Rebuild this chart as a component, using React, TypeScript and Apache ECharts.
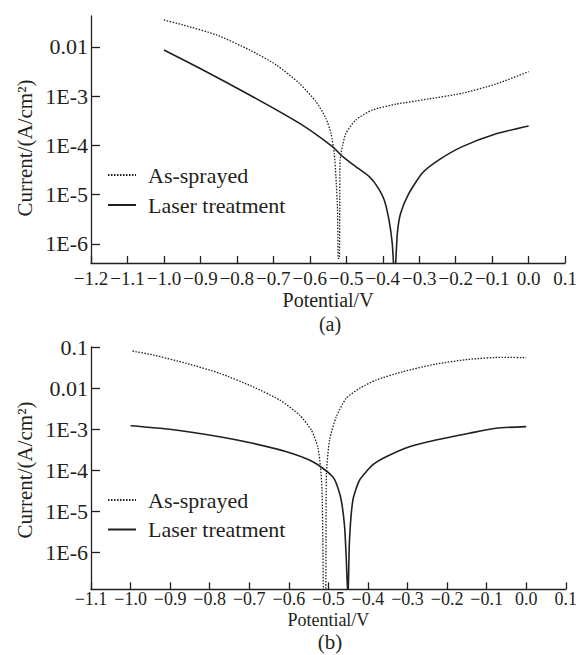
import React, { useEffect, useRef } from "react";
import * as echarts from "echarts";

// ---- data (a) ----
const potentialSprayedA = [-1.0, -0.948, -0.856, -0.765, -0.692, -0.629, -0.583, -0.556, -0.542, -0.533, -0.5285, -0.524, -0.522, -0.519, -0.518, -0.517, -0.51, -0.501, -0.474, -0.428, -0.364, -0.274, -0.182, -0.091, 0.0];
const currentSprayedA = [0.0353, 0.028, 0.01754, 8.69e-3, 4.31e-3, 1.83e-3, 7.75e-4, 3.56e-4, 1.77e-4, 6.95e-5, 2.32e-5, 4.9e-6, 5.1e-7, 5.1e-7, 4.9e-6, 5.08e-5, 1.02e-4, 1.77e-4, 3.3e-4, 5.26e-4, 6.87e-4, 8.8e-4, 1.15e-3, 1.75e-3, 3.15e-3];
const potentialLaserA = [-1.0, -0.902, -0.765, -0.629, -0.538, -0.51, -0.474, -0.437, -0.415, -0.396, -0.383, -0.374, -0.3675, -0.36, -0.351, -0.328, -0.292, -0.246, -0.182, -0.091, 0.0];
const currentLaserA = [8.69e-3, 3.7e-3, 1.06e-3, 2.83e-4, 9.46e-5, 5.93e-5, 3.72e-5, 2.32e-5, 1.46e-5, 7.8e-6, 3.07e-6, 1.03e-6, 2e-7, 1.65e-6, 4.2e-6, 1.07e-5, 2.73e-5, 5.08e-5, 9.46e-5, 1.71e-4, 2.49e-4];

// ---- data (b) ----
const potentialSprayedB = [-0.995, -0.943, -0.859, -0.775, -0.691, -0.623, -0.573, -0.543, -0.527, -0.52, -0.516, -0.514, -0.512, -0.507, -0.506, -0.505, -0.497, -0.48, -0.455, -0.421, -0.379, -0.312, -0.228, -0.144, -0.06, 0.0];
const currentSprayedB = [0.08, 0.064, 0.0401, 0.023, 0.01084, 5.15e-3, 2.22e-3, 9.6e-4, 3.78e-4, 1.23e-4, 3.34e-5, 2.04e-6, 1.2e-7, 1.2e-7, 2.0e-6, 8.5e-5, 5.5e-4, 2.02e-3, 5.66e-3, 9.9e-3, 0.0158, 0.0251, 0.0386, 0.0502, 0.0562, 0.055];
const potentialLaserB = [-1.0, -0.901, -0.775, -0.691, -0.606, -0.548, -0.514, -0.489, -0.48, -0.4676, -0.459, -0.455, -0.4505, -0.4466, -0.438, -0.421, -0.388, -0.354, -0.295, -0.228, -0.144, -0.0765, 0.0];
const currentLaserB = [1.22e-3, 1.0e-3, 6.6e-4, 4.56e-4, 2.85e-4, 1.79e-4, 1.13e-4, 7.0e-5, 4.86e-5, 1.91e-5, 4.28e-6, 8.0e-7, 8e-8, 2.04e-6, 1.91e-5, 5.85e-5, 1.36e-4, 2.15e-4, 3.78e-4, 5.48e-4, 8.0e-4, 1.06e-3, 1.16e-3];

const seriesNames = ["As-sprayed", "Laser treatment"];
const panelLabels = ["(a)", "(b)"];
const xAxisTitle = "Potential/V";
const yAxisTitle = "Current/(A/cm\u00B2)";

const INK = "#231f20";
const FONT = "'Liberation Serif', 'Times New Roman', serif";

const zip = (xs: number[], ys: number[]) => xs.map((x, i) => [x, ys[i]]);

function fmtX(v: number) {
  const r = Math.round(v * 10) / 10;
  return (r < 0 ? "\u2212" : "") + Math.abs(r).toFixed(1);
}
function fmtY(v: number) {
  const e = Math.round(Math.log10(v));
  return e >= -2 ? Math.pow(10, e).toFixed(-e) : "1E" + e;
}

const axisLineStyle = { color: INK, width: 1.3 };

function xAxisOpt(idx: number, min: number, fontSize: number, margin: number, nameGap: number, nameSize: number) {
  return {
    type: "value",
    gridIndex: idx,
    min,
    max: 0.1,
    interval: 0.1,
    axisLine: { onZero: false, lineStyle: axisLineStyle },
    axisTick: { inside: true, length: 7, lineStyle: axisLineStyle },
    axisLabel: { formatter: fmtX, color: INK, fontFamily: FONT, fontSize, margin },
    splitLine: { show: false },
    name: xAxisTitle,
    nameLocation: "middle",
    nameGap,
    nameTextStyle: { color: INK, fontFamily: FONT, fontSize: nameSize },
  };
}

function yAxisOpt(idx: number, min: number, max: number, showMax: boolean) {
  return {
    type: "log",
    logBase: 10,
    gridIndex: idx,
    min,
    max,
    axisLine: { onZero: false, lineStyle: axisLineStyle },
    axisTick: { inside: true, length: 9, lineStyle: axisLineStyle },
    axisLabel: {
      formatter: fmtY,
      color: INK,
      fontFamily: FONT,
      fontSize: 22,
      margin: 3,
      showMinLabel: false,
      showMaxLabel: showMax,
    },
    splitLine: { show: false },
    minorTick: { show: false },
  };
}

function lineSeries(name: string, gi: number, xs: number[], ys: number[], dotted: boolean) {
  return {
    type: "line",
    name,
    xAxisIndex: gi,
    yAxisIndex: gi,
    data: zip(xs, ys),
    symbol: "none",
    showSymbol: false,
    smooth: 0.2,
    itemStyle: { color: INK },
    lineStyle: dotted
      ? { color: INK, width: 1.3, type: [1.5, 1.5] }
      : { color: INK, width: 1.6, type: "solid" },
  };
}

function legendOpt(top: number, gap: number) {
  return {
    left: 107,
    top,
    padding: 0,
    orient: "vertical",
    itemWidth: 28,
    itemHeight: 12,
    itemGap: gap,
    selectedMode: false,
    data: seriesNames,
    itemStyle: { color: "rgba(0,0,0,0)", borderColor: "rgba(0,0,0,0)", borderWidth: 0 },
    textStyle: { color: INK, fontFamily: FONT, fontSize: 22, padding: [0, 0, 0, 7] },
  };
}

export default function App() {
  const ref = useRef<HTMLDivElement>(null);
  useEffect(() => {
    if (!ref.current) return;
    const chart = echarts.init(ref.current, undefined, { renderer: "svg" });
    chart.setOption({
      animation: false,
      backgroundColor: "#ffffff",
      grid: [
        { left: 91, top: 16, width: 475.5, height: 247 },
        { left: 91, top: 347, width: 475.7, height: 242.3 },
      ],
      xAxis: [xAxisOpt(0, -1.2, 19, 6, 27, 20), xAxisOpt(1, -1.1, 18, 1, 22, 18)],
      yAxis: [yAxisOpt(0, 4.1e-7, 0.0425, false), yAxisOpt(1, 1.29e-7, 0.1, true)],
      legend: [legendOpt(164, 8), legendOpt(489, 7.5)],
      graphic: [
        { type: "text", x: 25, y: 148, rotation: Math.PI / 2, style: { text: yAxisTitle, fill: INK, fontFamily: FONT, fontSize: 21, align: "center", verticalAlign: "middle" } },
        { type: "text", x: 25, y: 470, rotation: Math.PI / 2, style: { text: yAxisTitle, fill: INK, fontFamily: FONT, fontSize: 21, align: "center", verticalAlign: "middle" } },
        { type: "text", x: 330, y: 324, style: { text: panelLabels[0], fill: INK, fontFamily: FONT, fontSize: 20, align: "center", verticalAlign: "middle" } },
        { type: "text", x: 330, y: 642, style: { text: panelLabels[1], fill: INK, fontFamily: FONT, fontSize: 21, align: "center", verticalAlign: "middle" } },
      ],
      series: [
        lineSeries(seriesNames[0], 0, potentialSprayedA, currentSprayedA, true),
        lineSeries(seriesNames[1], 0, potentialLaserA, currentLaserA, false),
        lineSeries(seriesNames[0], 1, potentialSprayedB, currentSprayedB, true),
        lineSeries(seriesNames[1], 1, potentialLaserB, currentLaserB, false),
      ],
    });
    return () => chart.dispose();
  }, []);
  return (
    <div
      ref={ref}
      style={{ position: "absolute", left: 0, top: 0, width: 580, height: 655, background: "#fff" }}
    />
  );
}
